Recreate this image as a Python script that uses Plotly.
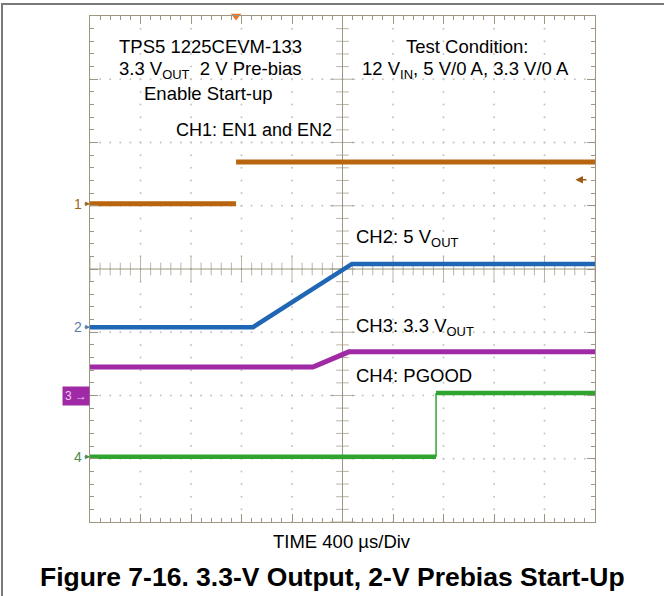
import numpy as np
import plotly.graph_objects as go

# ---------------- data (time in µs, level in screen divisions) ----------------
ch1_time = [0, 1157, None, 1157, 4000]
ch1_level = [1.03, 1.03, None, 1.69, 1.69]

ch2_time = [0, 1291, 2075, 4000]
ch2_level = [-0.92, -0.92, 0.08, 0.08]

ch3_time = [0, 1766, 2050, 4000]
ch3_level = [-1.55, -1.55, -1.31, -1.31]

ch4_time = [0, 2741, None, 2741, 4000]
ch4_level = [-2.97, -2.97, None, -1.96, -1.96]
ch4_edge_time = [2741, 2741]
ch4_edge_level = [-2.97, -1.96]

trigger_time = 1157
trigger_level = 1.41
channel_offsets = [1.03, -0.92, -2.0, -2.97]

time_per_div = 400
n_xdiv, n_ydiv = 10, 8

# ---------------- layout geometry ----------------
W, H = 664, 596
PL, PR, PT, PB = 90, 595, 16, 522


def px_x(p):
    return (p - PL) / (PR - PL)


def px_y(p):
    return (PB - p) / (PB - PT)


C_ORANGE = "#B8650E"
C_BLUE = "#1F66B4"
C_MAG = "#A02AA6"
C_GREEN = "#2FA52F"
C_GRID = "#9C9682"
C_DOT = "#C4C4C4"
FONT = "Liberation Sans, Arial, sans-serif"

fig = go.Figure()

# dotted grid
xmax = n_xdiv * time_per_div
dx, dy = [], []
for k in range(1, n_xdiv):
    if k == n_xdiv // 2:
        continue
    for j in np.arange(-4, 4.001, 0.2):
        dx.append(k * time_per_div)
        dy.append(j)
for k in range(-3, 4):
    if k == 0:
        continue
    for j in np.arange(0, xmax + 1, time_per_div / 5):
        dx.append(j)
        dy.append(k)
fig.add_trace(go.Scatter(x=dx, y=dy, mode="markers", hoverinfo="skip",
                         marker=dict(size=2, color=C_DOT), showlegend=False))

# center crosshair with ticks
fig.add_trace(go.Scatter(x=[0, xmax], y=[0, 0], mode="lines", hoverinfo="skip",
                         line=dict(color=C_GRID, width=1), showlegend=False))
fig.add_trace(go.Scatter(x=[xmax / 2, xmax / 2], y=[-4, 4], mode="lines", hoverinfo="skip",
                         line=dict(color=C_GRID, width=1), showlegend=False))
tx = np.arange(0, xmax + 1, time_per_div / 5)
fig.add_trace(go.Scatter(x=tx, y=[0] * len(tx), mode="markers", hoverinfo="skip",
                         marker=dict(symbol="line-ns", size=[18 if i % 5 == 0 else 9 for i in range(len(tx))],
                                     line=dict(color=C_GRID, width=1)), showlegend=False))
ty = np.arange(-4, 4.001, 0.2)
fig.add_trace(go.Scatter(x=[xmax / 2] * len(ty), y=ty, mode="markers", hoverinfo="skip",
                         marker=dict(symbol="line-ew", size=[18 if i % 5 == 0 else 9 for i in range(len(ty))],
                                     line=dict(color=C_GRID, width=1)), showlegend=False))

# traces
fig.add_trace(go.Scatter(x=ch1_time, y=ch1_level, mode="lines", line=dict(color=C_ORANGE, width=5),
                         connectgaps=False, showlegend=False))
fig.add_trace(go.Scatter(x=ch2_time, y=ch2_level, mode="lines", line=dict(color=C_BLUE, width=4.5),
                         showlegend=False))
fig.add_trace(go.Scatter(x=ch3_time, y=ch3_level, mode="lines", line=dict(color=C_MAG, width=5),
                         showlegend=False))
fig.add_trace(go.Scatter(x=ch4_time, y=ch4_level, mode="lines", line=dict(color=C_GREEN, width=4.5),
                         connectgaps=False, showlegend=False))
fig.add_trace(go.Scatter(x=ch4_edge_time, y=ch4_edge_level, mode="lines", line=dict(color=C_GREEN, width=1.5),
                         showlegend=False))

# trigger position marker (top)
fig.add_trace(go.Scatter(x=[trigger_time], y=[4], mode="markers", cliponaxis=False, hoverinfo="skip",
                         marker=dict(symbol="triangle-down", size=9, color="#E8782A"), showlegend=False))

axis_common = dict(showgrid=False, zeroline=False, showticklabels=False, showline=True,
                   linecolor=C_GRID, linewidth=1, mirror="ticks", ticks="inside",
                   tickcolor=C_GRID, ticklen=8, tickwidth=1)
fig.update_xaxes(range=[0, xmax], dtick=time_per_div, tick0=0,
                 minor=dict(dtick=time_per_div / 5, ticks="inside", ticklen=4, tickcolor=C_GRID, showgrid=False),
                 **axis_common)
fig.update_yaxes(range=[-4, 4], dtick=1, tick0=0,
                 minor=dict(dtick=0.2, ticks="inside", ticklen=4, tickcolor=C_GRID, showgrid=False),
                 **axis_common)

ann = []


def text(xp, yp, s, size=18.5, anchor="center", color="black", **kw):
    ann.append(dict(x=px_x(xp), y=px_y(yp), xref="paper", yref="paper", text=s, showarrow=False,
                    xanchor=anchor, yanchor="middle", font=dict(family=FONT, size=size, color=color), **kw))


text(210, 46, "TPS5 1225CEVM-133")
text(210, 70, "3.3 V<sub>OUT</sub>  2 V Pre-bias")
text(208, 93, "Enable Start-up")
text(174, 130, "CH1: EN1 and EN2", anchor="left", size=18)
text(467, 46, "Test Condition:")
text(465, 70, "12 V<sub>IN</sub>, 5 V/0 A, 3.3 V/0 A")
text(354, 238, "CH2: 5 V<sub>OUT</sub>", anchor="left")
text(354, 327, "CH3: 3.3 V<sub>OUT</sub>", anchor="left")
text(354, 375, "CH4: PGOOD", anchor="left")
text(342, 541, "TIME 400 µs/Div", size=18.5)
text(332, 577, "<b>Figure 7-16. 3.3-V Output, 2-V Prebias Start-Up</b>", size=26.5)

# channel ground markers on the left
marker_cols = ["#A0651C", "#5A7EA6", None, "#4E8A4E"]
for i, (lvl, col) in enumerate(zip(channel_offsets, marker_cols)):
    if col is None:
        continue
    ann.append(dict(x=0, y=lvl, xref="x", yref="y", text=str(i + 1), showarrow=True,
                    ax=-12, ay=0, arrowhead=2, arrowsize=0.8, arrowwidth=1.2, arrowcolor=col,
                    standoff=0, startstandoff=1,
                    font=dict(family=FONT, size=14, color=col)))
ann.append(dict(x=0, y=channel_offsets[2], xref="x", yref="y", text="3 →", showarrow=False,
                xanchor="right", yanchor="middle", bgcolor=C_MAG, borderpad=2,
                font=dict(family=FONT, size=12, color="#F4C8F4")))
# trigger level arrow on the right
ann.append(dict(x=3845, y=trigger_level, xref="x", yref="y", text=" ", showarrow=True,
                ax=13, ay=0, arrowhead=2, arrowsize=1, arrowwidth=1.5, arrowcolor="#9A5A10",
                font=dict(size=2)))

fig.update_layout(
    width=W, height=H, margin=dict(l=PL, r=W - PR, t=PT, b=H - PB),
    paper_bgcolor="white", plot_bgcolor="white", annotations=ann,
    shapes=[dict(type="rect", xref="paper", yref="paper",
                 x0=px_x(2), x1=px_x(700), y0=px_y(700), y1=px_y(4),
                 line=dict(color="#7A7A7A", width=2), fillcolor="rgba(0,0,0,0)", layer="below")],
)

fig.write_html("out.html", config={"displayModeBar": False},
               post_script="document.body.style.margin='0';")
